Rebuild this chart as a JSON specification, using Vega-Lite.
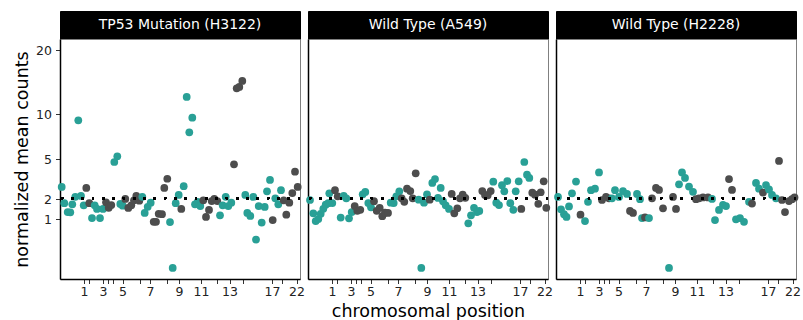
{
  "$schema": "https://vega.github.io/schema/vega-lite/v6.json",
  "padding": {"left": 13, "top": 10, "right": 0, "bottom": 0},
  "spacing": 0,
  "config": {
    "font": "DejaVu Sans",
    "view": {"stroke": null},
    "axis": {
      "grid": false,
      "labelFont": "DejaVu Sans",
      "labelFontSize": 12.5,
      "labelColor": "#222222",
      "tickColor": "#333333",
      "tickSize": 4.5,
      "domainColor": "black",
      "domainWidth": 1.5,
      "titleFont": "DejaVu Sans",
      "titleFontSize": 17.5,
      "titleFontWeight": "normal",
      "titleColor": "black"
    }
  },
  "datasets": {
    "h3122": [
      {"pos":1.7,"v":2.77,"c":"t"},{"pos":4.3,"v":1.77,"c":"t"},{"pos":7.7,"v":1.32,"c":"t"},{"pos":10.3,"v":1.31,"c":"t"},{"pos":12.3,"v":1.71,"c":"t"},{"pos":15.3,"v":2.14,"c":"t"},{"pos":18.3,"v":9.21,"c":"t"},{"pos":21,"v":2.19,"c":"t"},{"pos":23.7,"v":1.66,"c":"t"},{"pos":26.3,"v":2.70,"c":"g"},{"pos":29.3,"v":1.77,"c":"g"},{"pos":32,"v":1.05,"c":"t"},{"pos":34.7,"v":1.66,"c":"t"},{"pos":37,"v":1.47,"c":"t"},{"pos":40,"v":1.05,"c":"t"},{"pos":43,"v":1.47,"c":"t"},{"pos":46,"v":1.82,"c":"g"},{"pos":48.7,"v":1.53,"c":"g"},{"pos":51.3,"v":1.67,"c":"g"},{"pos":54.3,"v":4.74,"c":"t"},{"pos":57.3,"v":5.26,"c":"t"},{"pos":60.3,"v":1.73,"c":"t"},{"pos":62.7,"v":1.64,"c":"t"},{"pos":65.3,"v":2.01,"c":"g"},{"pos":68.3,"v":1.52,"c":"g"},{"pos":71.3,"v":1.66,"c":"g"},{"pos":74,"v":1.93,"c":"g"},{"pos":76.3,"v":2.19,"c":"g"},{"pos":79.3,"v":1.91,"c":"g"},{"pos":82.3,"v":2.14,"c":"t"},{"pos":84.7,"v":1.28,"c":"t"},{"pos":87.7,"v":1.58,"c":"t"},{"pos":90.7,"v":1.80,"c":"t"},{"pos":93.7,"v":0.90,"c":"g"},{"pos":96,"v":0.90,"c":"g"},{"pos":98.7,"v":1.24,"c":"g"},{"pos":102,"v":1.22,"c":"g"},{"pos":104.3,"v":2.70,"c":"g"},{"pos":107.3,"v":3.36,"c":"g"},{"pos":110,"v":0.89,"c":"t"},{"pos":112.7,"v":0,"c":"t"},{"pos":115.7,"v":1.77,"c":"t"},{"pos":118.7,"v":2.25,"c":"t"},{"pos":121.3,"v":1.47,"c":"g"},{"pos":123.7,"v":2.82,"c":"t"},{"pos":126.7,"v":12.34,"c":"t"},{"pos":129.3,"v":7.77,"c":"t"},{"pos":132.3,"v":9.53,"c":"t"},{"pos":135,"v":1.71,"c":"t"},{"pos":137.7,"v":1.85,"c":"t"},{"pos":140.3,"v":1.62,"c":"t"},{"pos":143.3,"v":1.93,"c":"g"},{"pos":146,"v":1.10,"c":"g"},{"pos":149,"v":1.42,"c":"g"},{"pos":151.7,"v":1.89,"c":"g"},{"pos":154.3,"v":2.01,"c":"g"},{"pos":157.3,"v":1.89,"c":"g"},{"pos":160,"v":1.17,"c":"t"},{"pos":162.7,"v":1.66,"c":"t"},{"pos":165.7,"v":2.14,"c":"t"},{"pos":168.3,"v":1.62,"c":"t"},{"pos":171.3,"v":1.80,"c":"t"},{"pos":174,"v":4.54,"c":"g"},{"pos":176.7,"v":13.63,"c":"g"},{"pos":179.3,"v":13.83,"c":"g"},{"pos":182.3,"v":14.76,"c":"g"},{"pos":185.3,"v":2.25,"c":"t"},{"pos":187.3,"v":1.28,"c":"t"},{"pos":190.3,"v":1.14,"c":"t"},{"pos":193.3,"v":2.13,"c":"t"},{"pos":196,"v":0.34,"c":"t"},{"pos":198.7,"v":1.62,"c":"t"},{"pos":201.7,"v":0.87,"c":"t"},{"pos":204.7,"v":1.57,"c":"t"},{"pos":207,"v":2.48,"c":"t"},{"pos":210,"v":3.27,"c":"t"},{"pos":212.7,"v":0.97,"c":"g"},{"pos":215.3,"v":2.05,"c":"t"},{"pos":218.3,"v":1.71,"c":"t"},{"pos":221,"v":2.55,"c":"t"},{"pos":223.7,"v":1.93,"c":"g"},{"pos":226.3,"v":1.20,"c":"g"},{"pos":229.3,"v":1.80,"c":"g"},{"pos":232.3,"v":2.37,"c":"g"},{"pos":235,"v":3.91,"c":"g"},{"pos":237.7,"v":2.77,"c":"g"}
    ],
    "a549": [
      {"pos":2,"v":1.95,"c":"t"},{"pos":5.3,"v":1.26,"c":"t"},{"pos":7.7,"v":0.93,"c":"t"},{"pos":10.3,"v":1.01,"c":"t"},{"pos":12.7,"v":1.24,"c":"t"},{"pos":15.3,"v":1.48,"c":"t"},{"pos":17.7,"v":1.69,"c":"t"},{"pos":20.3,"v":1.77,"c":"t"},{"pos":21.3,"v":2.35,"c":"t"},{"pos":24.3,"v":1.78,"c":"t"},{"pos":27,"v":2.55,"c":"g"},{"pos":29.7,"v":2.17,"c":"g"},{"pos":32.7,"v":1.07,"c":"t"},{"pos":35.7,"v":2.19,"c":"t"},{"pos":38.3,"v":2.05,"c":"t"},{"pos":41,"v":1.04,"c":"t"},{"pos":43.7,"v":1.32,"c":"t"},{"pos":46.7,"v":1.62,"c":"g"},{"pos":49.3,"v":1.38,"c":"g"},{"pos":52.3,"v":1.43,"c":"g"},{"pos":54.7,"v":2.29,"c":"t"},{"pos":57.3,"v":2.44,"c":"t"},{"pos":60.3,"v":1.78,"c":"t"},{"pos":63,"v":1.55,"c":"t"},{"pos":66,"v":1.88,"c":"g"},{"pos":68.7,"v":1.38,"c":"g"},{"pos":71.7,"v":1.52,"c":"g"},{"pos":74.3,"v":1.13,"c":"g"},{"pos":77,"v":1.29,"c":"g"},{"pos":80,"v":1.28,"c":"g"},{"pos":82.7,"v":1.80,"c":"t"},{"pos":85.7,"v":1.78,"c":"t"},{"pos":88.3,"v":2.17,"c":"t"},{"pos":91.3,"v":2.48,"c":"t"},{"pos":93.7,"v":2.05,"c":"g"},{"pos":96.3,"v":1.85,"c":"g"},{"pos":99,"v":2.65,"c":"g"},{"pos":102.3,"v":2.50,"c":"g"},{"pos":104.7,"v":2.05,"c":"g"},{"pos":107.7,"v":3.78,"c":"g"},{"pos":110.7,"v":1.97,"c":"t"},{"pos":113.3,"v":0,"c":"t"},{"pos":116,"v":1.80,"c":"t"},{"pos":119,"v":2.29,"c":"t"},{"pos":121.7,"v":1.97,"c":"g"},{"pos":124.3,"v":3.05,"c":"t"},{"pos":127,"v":3.34,"c":"t"},{"pos":130,"v":2.07,"c":"t"},{"pos":132.7,"v":2.70,"c":"t"},{"pos":135,"v":1.88,"c":"t"},{"pos":137.7,"v":1.66,"c":"t"},{"pos":141,"v":1.47,"c":"t"},{"pos":143.7,"v":2.31,"c":"g"},{"pos":146.3,"v":1.26,"c":"g"},{"pos":149.3,"v":1.50,"c":"g"},{"pos":152,"v":2.05,"c":"g"},{"pos":154.7,"v":2.27,"c":"g"},{"pos":157.3,"v":2.08,"c":"g"},{"pos":160.3,"v":0.84,"c":"t"},{"pos":163,"v":1.17,"c":"t"},{"pos":166,"v":1.53,"c":"t"},{"pos":169,"v":1.32,"c":"t"},{"pos":171.3,"v":1.37,"c":"t"},{"pos":174.3,"v":2.50,"c":"g"},{"pos":177,"v":2.25,"c":"g"},{"pos":179.7,"v":2.23,"c":"g"},{"pos":182.7,"v":2.50,"c":"g"},{"pos":185.3,"v":3.14,"c":"t"},{"pos":188.3,"v":1.80,"c":"t"},{"pos":191,"v":1.67,"c":"t"},{"pos":194,"v":2.89,"c":"t"},{"pos":196.3,"v":2.48,"c":"t"},{"pos":199.3,"v":3.19,"c":"t"},{"pos":202.3,"v":1.77,"c":"t"},{"pos":205.3,"v":1.43,"c":"t"},{"pos":207.7,"v":2.48,"c":"t"},{"pos":210.7,"v":3.17,"c":"t"},{"pos":213.3,"v":1.47,"c":"g"},{"pos":216.3,"v":4.74,"c":"t"},{"pos":219,"v":3.67,"c":"t"},{"pos":221.3,"v":3.42,"c":"t"},{"pos":224.3,"v":2.39,"c":"g"},{"pos":227,"v":2.27,"c":"g"},{"pos":230.3,"v":1.74,"c":"g"},{"pos":232.7,"v":2.42,"c":"g"},{"pos":235.7,"v":3.17,"c":"g"},{"pos":238.3,"v":1.53,"c":"g"}
    ],
    "h2228": [
      {"pos":2,"v":2.13,"c":"t"},{"pos":5,"v":1.45,"c":"t"},{"pos":8,"v":1.22,"c":"t"},{"pos":10.5,"v":1.10,"c":"t"},{"pos":13,"v":1.60,"c":"t"},{"pos":16,"v":2.35,"c":"t"},{"pos":20,"v":3.15,"c":"t"},{"pos":24.5,"v":1.20,"c":"g"},{"pos":29,"v":0.93,"c":"t"},{"pos":32,"v":1.85,"c":"t"},{"pos":35,"v":2.55,"c":"t"},{"pos":39,"v":2.65,"c":"t"},{"pos":43,"v":3.85,"c":"t"},{"pos":46,"v":1.95,"c":"g"},{"pos":50,"v":2.13,"c":"g"},{"pos":53,"v":2.05,"c":"g"},{"pos":56,"v":2.05,"c":"t"},{"pos":59,"v":2.55,"c":"t"},{"pos":63,"v":2.13,"c":"t"},{"pos":67,"v":2.50,"c":"t"},{"pos":71,"v":2.31,"c":"t"},{"pos":74,"v":1.37,"c":"g"},{"pos":77,"v":1.28,"c":"g"},{"pos":81,"v":2.31,"c":"t"},{"pos":84,"v":2.00,"c":"t"},{"pos":86,"v":1.05,"c":"t"},{"pos":89,"v":1.08,"c":"g"},{"pos":93,"v":1.05,"c":"t"},{"pos":96,"v":2.05,"c":"g"},{"pos":100,"v":2.70,"c":"g"},{"pos":103,"v":2.57,"c":"g"},{"pos":107,"v":1.50,"c":"g"},{"pos":113,"v":0,"c":"t"},{"pos":117,"v":2.13,"c":"g"},{"pos":120,"v":1.47,"c":"g"},{"pos":123,"v":2.95,"c":"t"},{"pos":126,"v":3.85,"c":"t"},{"pos":129,"v":3.42,"c":"t"},{"pos":133,"v":2.80,"c":"t"},{"pos":137,"v":2.45,"c":"t"},{"pos":140,"v":2.00,"c":"g"},{"pos":143,"v":2.05,"c":"g"},{"pos":147,"v":2.10,"c":"g"},{"pos":152,"v":2.10,"c":"g"},{"pos":156,"v":2.01,"c":"t"},{"pos":159,"v":0.97,"c":"t"},{"pos":163,"v":1.42,"c":"t"},{"pos":167,"v":1.68,"c":"t"},{"pos":170,"v":1.62,"c":"t"},{"pos":173,"v":3.34,"c":"g"},{"pos":176,"v":2.57,"c":"g"},{"pos":180,"v":1.00,"c":"t"},{"pos":184,"v":1.05,"c":"t"},{"pos":188,"v":0.90,"c":"t"},{"pos":193,"v":1.85,"c":"t"},{"pos":196,"v":1.75,"c":"g"},{"pos":200,"v":3.05,"c":"t"},{"pos":203,"v":2.65,"c":"t"},{"pos":207,"v":2.40,"c":"g"},{"pos":210,"v":2.90,"c":"t"},{"pos":213,"v":2.60,"c":"t"},{"pos":216,"v":2.25,"c":"t"},{"pos":220,"v":2.05,"c":"t"},{"pos":223,"v":4.83,"c":"g"},{"pos":226,"v":1.95,"c":"g"},{"pos":229,"v":1.32,"c":"g"},{"pos":233,"v":1.89,"c":"g"},{"pos":236,"v":2.00,"c":"g"},{"pos":238.5,"v":2.10,"c":"g"}
    ]
  },
  "hconcat": [
    {
      "bounds": "flush",
      "spacing": 0,
      "vconcat": [
        {
          "width": 240, "height": 28,
          "view": {"fill": "black", "stroke": "black"},
          "data": {"values": [{"t": "TP53 Mutation (H3122)"}]},
          "mark": {"type": "text", "color": "white", "fontSize": 14, "font": "DejaVu Sans"},
          "encoding": {"text": {"field": "t"}}
        },
        {
          "width": 240, "height": 240,
          "view": {"stroke": "#808080"},
          "data": {"name": "h3122"},
          "layer": [
            {
              "mark": {"type": "circle", "size": 60, "opacity": 1},
              "encoding": {
                "x": {"field": "pos", "type": "quantitative",
                  "scale": {"domain": [0, 240], "nice": false, "zero": false},
                  "axis": {"title": null, "values": [24, 28.5, 43, 48, 52.5, 62.5, 79.5, 90, 107, 119, 141, 156.5, 169.5, 183, 212, 222, 236.5], "labelExpr": "datum.value==24?'1':datum.value==43?'3':datum.value==62.5?'5':datum.value==90?'7':datum.value==119?'9':datum.value==141?'11':datum.value==169.5?'13':datum.value==212?'17':datum.value==236.5?'22':''", "labelOverlap": false, "labelFlush": false, "labelPadding": 2}},
                "y": {"field": "v", "type": "quantitative",
                  "scale": {"type": "sqrt", "domain": [-0.0514, 22.13], "nice": false, "zero": false},
                  "axis": {"title": "normalized mean counts", "values": [1, 2, 5, 10, 20], "labelPadding": 4, "titlePadding": 4}},
                "color": {"field": "c", "type": "nominal", "scale": {"domain": ["t", "g"], "range": ["#29A096", "#4D4D4D"]}, "legend": null}
              }
            },
            {
              "mark": {"type": "rule", "color": "black", "strokeWidth": 2, "strokeDash": [2, 8.3]},
              "encoding": {"y": {"datum": 2.05}}
            }
          ]
        }
      ]
    },
    {
      "bounds": "flush",
      "spacing": 0,
      "vconcat": [
        {
          "width": 240, "height": 28,
          "view": {"fill": "black", "stroke": "black"},
          "data": {"values": [{"t": "Wild Type (A549)"}]},
          "mark": {"type": "text", "color": "white", "fontSize": 14, "font": "DejaVu Sans"},
          "encoding": {"text": {"field": "t"}}
        },
        {
          "width": 240, "height": 240,
          "view": {"stroke": "#808080"},
          "data": {"name": "a549"},
          "layer": [
            {
              "mark": {"type": "circle", "size": 60, "opacity": 1},
              "encoding": {
                "x": {"field": "pos", "type": "quantitative",
                  "scale": {"domain": [0, 240], "nice": false, "zero": false},
                  "axis": {"title": "chromosomal position", "titlePadding": 4, "values": [24, 28.5, 43, 48, 52.5, 62.5, 79.5, 90, 107, 119, 141, 156.5, 169.5, 183, 212, 222, 236.5], "labelExpr": "datum.value==24?'1':datum.value==43?'3':datum.value==62.5?'5':datum.value==90?'7':datum.value==119?'9':datum.value==141?'11':datum.value==169.5?'13':datum.value==212?'17':datum.value==236.5?'22':''", "labelOverlap": false, "labelFlush": false, "labelPadding": 2}},
                "y": {"field": "v", "type": "quantitative",
                  "scale": {"type": "sqrt", "domain": [-0.0514, 22.13], "nice": false, "zero": false},
                  "axis": {"title": null, "labels": false, "ticks": false, "values": [1, 2, 5, 10, 20]}},
                "color": {"field": "c", "type": "nominal", "scale": {"domain": ["t", "g"], "range": ["#29A096", "#4D4D4D"]}, "legend": null}
              }
            },
            {
              "mark": {"type": "rule", "color": "black", "strokeWidth": 2, "strokeDash": [2, 8.3]},
              "encoding": {"y": {"datum": 2.05}}
            }
          ]
        }
      ]
    },
    {
      "bounds": "flush",
      "spacing": 0,
      "vconcat": [
        {
          "width": 240, "height": 28,
          "view": {"fill": "black", "stroke": "black"},
          "data": {"values": [{"t": "Wild Type (H2228)"}]},
          "mark": {"type": "text", "color": "white", "fontSize": 14, "font": "DejaVu Sans"},
          "encoding": {"text": {"field": "t"}}
        },
        {
          "width": 240, "height": 240,
          "view": {"stroke": "#808080"},
          "data": {"name": "h2228"},
          "layer": [
            {
              "mark": {"type": "circle", "size": 60, "opacity": 1},
              "encoding": {
                "x": {"field": "pos", "type": "quantitative",
                  "scale": {"domain": [0, 240], "nice": false, "zero": false},
                  "axis": {"title": null, "values": [24, 28.5, 43, 48, 52.5, 62.5, 79.5, 90, 107, 119, 141, 156.5, 169.5, 183, 212, 222, 236.5], "labelExpr": "datum.value==24?'1':datum.value==43?'3':datum.value==62.5?'5':datum.value==90?'7':datum.value==119?'9':datum.value==141?'11':datum.value==169.5?'13':datum.value==212?'17':datum.value==236.5?'22':''", "labelOverlap": false, "labelFlush": false, "labelPadding": 2}},
                "y": {"field": "v", "type": "quantitative",
                  "scale": {"type": "sqrt", "domain": [-0.0514, 22.13], "nice": false, "zero": false},
                  "axis": {"title": null, "labels": false, "ticks": false, "values": [1, 2, 5, 10, 20]}},
                "color": {"field": "c", "type": "nominal", "scale": {"domain": ["t", "g"], "range": ["#29A096", "#4D4D4D"]}, "legend": null}
              }
            },
            {
              "mark": {"type": "rule", "color": "black", "strokeWidth": 2, "strokeDash": [2, 8.3]},
              "encoding": {"y": {"datum": 2.05}}
            }
          ]
        }
      ]
    }
  ]
}
